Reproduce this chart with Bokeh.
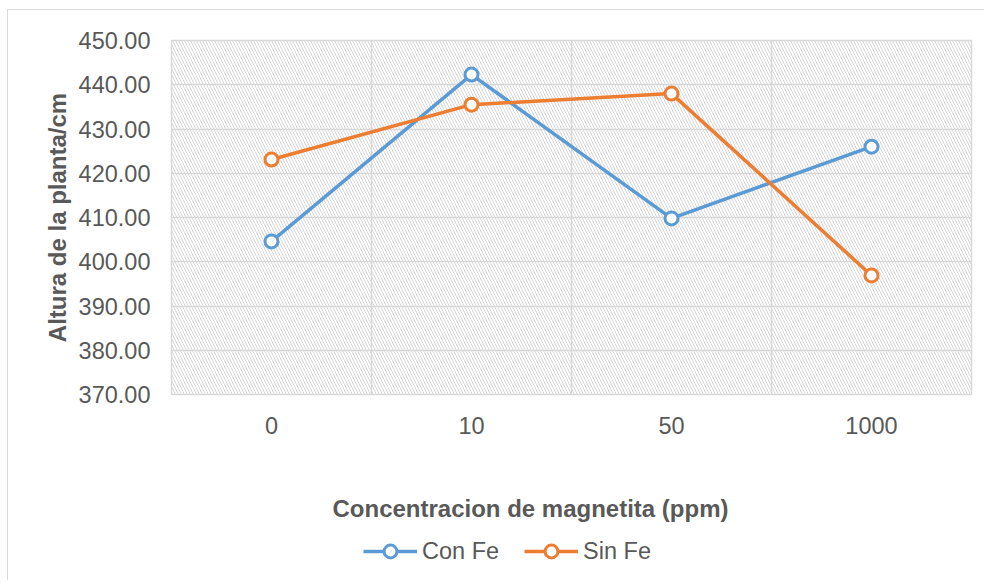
from bokeh.plotting import figure
from bokeh.layouts import column
from bokeh.models import (FixedTicker, Range1d, BoxAnnotation, Legend, LegendItem,
                          ColumnDataSource, Label)
from bokeh.embed import file_html
from bokeh.resources import INLINE

categories = ["0", "10", "50", "1000"]
con_fe = [404.6, 442.3, 409.8, 426.0]
sin_fe = [423.1, 435.5, 438.0, 396.9]
y_ticks = [370, 380, 390, 400, 410, 420, 430, 440, 450]
series_names = ["Con Fe", "Sin Fe"]
x_title = "Concentracion de magnetita (ppm)"
y_title = "Altura de la planta/cm"

xpos = [i + 0.5 for i in range(len(categories))]

TXT = "#595959"
GRID = "#d9d9d9"
BLUE = "#5B9BD5"
ORANGE = "#ED7D31"
FONT = "Liberation Sans"

p = figure(width=976, height=450, output_backend="svg", toolbar_location=None,
           x_range=Range1d(0, len(categories)), y_range=Range1d(370, 450),
           min_border_left=163, min_border_top=30, min_border_right=13,
           min_border_bottom=66)

p.background_fill_color = "white"
p.border_fill_color = "white"
p.outline_line_color = GRID
p.outline_line_width = 1.5

# hatched plot area
p.add_layout(BoxAnnotation(left=0, right=len(categories), bottom=370, top=450,
                           fill_alpha=0, line_alpha=0, hatch_pattern="\\",
                           hatch_color="#d6d6d6", hatch_scale=6, hatch_weight=1,
                           level="underlay"))

p.xgrid.ticker = FixedTicker(ticks=list(range(1, len(categories))))
p.xgrid.grid_line_color = GRID
p.xgrid.grid_line_width = 1.5
p.ygrid.ticker = FixedTicker(ticks=y_ticks)
p.ygrid.grid_line_color = GRID
p.ygrid.grid_line_width = 1.5

p.xaxis.ticker = FixedTicker(ticks=xpos)
p.xaxis.major_label_overrides = {x: c for x, c in zip(xpos, categories)}
p.yaxis.ticker = FixedTicker(ticks=y_ticks)
p.yaxis.major_label_overrides = {t: f"{t:.2f}" for t in y_ticks}

for ax in (p.xaxis, p.yaxis):
    ax.axis_line_color = None
    ax.major_tick_line_color = None
    ax.minor_tick_line_color = None
    ax.major_label_text_color = TXT
    ax.major_label_text_font = FONT
    ax.major_label_text_font_size = "23.5px"
    ax.axis_label_text_color = TXT
    ax.axis_label_text_font = FONT
    ax.axis_label_text_font_size = "24px"
    ax.axis_label_text_font_style = "bold"

p.yaxis.axis_label = y_title
p.xaxis.major_label_standoff = 16
p.yaxis.major_label_standoff = 15
p.yaxis.axis_label_standoff = 5

src = ColumnDataSource(dict(x=xpos, con=con_fe, sin=sin_fe))

p.line("x", "con", source=src, line_color=BLUE, line_width=3.5)
p.scatter("x", "con", source=src, size=13, fill_color="white",
          line_color=BLUE, line_width=3)
p.line("x", "sin", source=src, line_color=ORANGE, line_width=3.5)
p.scatter("x", "sin", source=src, size=13, fill_color="white",
          line_color=ORANGE, line_width=3)

# strip below the chart with the x-axis title and the legend
# (its frame is aligned with the chart's frame)
lg = figure(width=976, height=120, output_backend="svg", toolbar_location=None,
            x_range=Range1d(0, 1), y_range=Range1d(0, 1),
            min_border=0)
lg.axis.visible = False
lg.grid.visible = False
lg.outline_line_color = None
lg.background_fill_color = "white"
lg.border_fill_color = "white"

lg.add_layout(Label(x=359, y=72, x_units="screen", y_units="screen", text=x_title,
                    text_align="center", text_baseline="middle",
                    text_font=FONT, text_font_size="24px", text_font_style="bold",
                    text_color=TXT))

offscreen = ColumnDataSource(dict(x=[-10, -11], y=[-10, -11]))
items = []
for name, col in zip(series_names, (BLUE, ORANGE)):
    ln = lg.line("x", "y", source=offscreen, line_color=col, line_width=3.5)
    mk = lg.scatter("x", "y", source=offscreen, size=13, fill_color="white",
                    line_color=col, line_width=3)
    items.append(LegendItem(label=name, renderers=[ln, mk]))

legend = Legend(items=items, orientation="horizontal", location=(192, 13),
                glyph_width=54, glyph_height=32, label_standoff=5, spacing=25,
                label_text_font=FONT, label_text_font_size="23.5px",
                label_text_color=TXT, border_line_color=None,
                background_fill_alpha=0, padding=0, margin=0)
lg.add_layout(legend, "center")

layout = column(p, lg, spacing=0,
                styles={"margin-left": "7px", "margin-top": "9px",
                        "border-left": "1.5px solid #d9d9d9",
                        "border-top": "1.5px solid #d9d9d9"})

open("out.html", "w").write(file_html(layout, INLINE))
